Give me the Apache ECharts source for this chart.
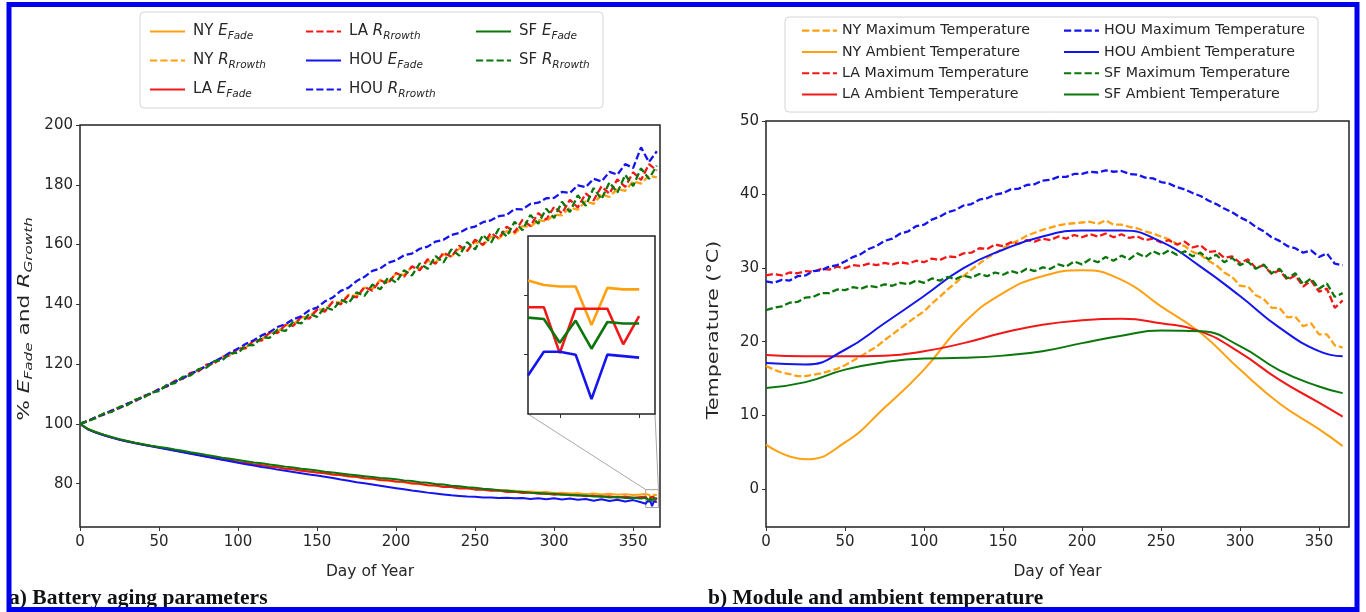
<!DOCTYPE html>
<html>
<head>
<meta charset="utf-8">
<script src="https://cdn.jsdelivr.net/npm/echarts@6/dist/echarts.min.js"></script>
<style>
  html, body { margin: 0; padding: 0; background: #fff; }
  #main { width: 1366px; height: 612px; }
</style>
</head>
<body>
<div id="main"></div>
<script>
// ---- sampling days ----
const STEP5_DAYS = [0,5,10,15,20,25,30,35,40,45,50,55,60,65,70,75,80,85,90,95,100,105,110,115,120,125,130,135,140,145,150,155,160,165,170,175,180,185,190,195,200,205,210,215,220,225,230,235,240,245,250,255,260,265,270,275,280,285,290,295,300,305,310,315,320,325,330,335,340,345,350,355,360,365];
const E_DAYS = [0,5,10,15,20,25,30,35,40,45,50,55,60,65,70,75,80,85,90,95,100,105,110,115,120,125,130,135,140,145,150,155,160,165,170,175,180,185,190,195,200,205,210,215,220,225,230,235,240,245,250,255,260,265,270,275,280,285,290,295,300,305,310,315,320,325,330,335,340,345,350,355,358,359,360,361,362,363,364,365];
const AMB_DAYS = [0,25,50,75,100,125,150,175,200,225,250,275,300,325,350,365];

// ---- (a) capacity fade, % ----
const NY_E = [100,98.2,97.2,96.3,95.5,94.8,94.2,93.6,93.1,92.6, 92.2,91.7,91.2,90.7,90.2,89.7,89.2,88.7,88.2,87.8, 87.3,86.9,86.5,86.2,85.8,85.4,85.1,84.7,84.4,84.0, 83.7,83.5,83.0,82.8,82.4,82.2,81.7,81.6,81.1,81.0, 80.6,80.5,80.0,79.9,79.5,79.4,79.0,78.9,78.6,78.5, 78.2,78.1,77.9,77.9,77.6,77.6,77.3,77.4,77.1,77.2, 76.9,77.0,76.7,76.8,76.5,76.7,76.4,76.6,76.3,76.5, 76.2,76.4, 76.5,76.35,76.3,76.3,75.0,76.25,76.2,76.2];
const LA_E = [100,98.2,97.1,96.3,95.4,94.8,94.1,93.6,93.0,92.6, 92.1,91.7,91.1,90.7,90.1,89.7,89.1,88.7,88.1,87.8, 87.2,86.9,86.4,86.2,85.7,85.5,85.0,84.8,84.3,84.1, 83.7,83.5,83.1,82.9,82.5,82.3,81.8,81.7,81.2,81.1, 80.7,80.6,80.1,80.0,79.5,79.4,78.9,78.9,78.4,78.5, 78.0,78.0,77.6,77.7,77.2,77.3,76.9,77.0,76.6,76.7, 76.3,76.5,76.1,76.2,75.8,76.0,75.6,75.8,75.4,75.7, 75.3,75.5, 75.6,75.6,74.05,75.55,75.55,75.55,74.35,75.3];
const HOU_E = [100,98.2,97.1,96.2,95.4,94.7,94.1,93.5,93.0,92.5, 92.0,91.5,91.0,90.5,90.0,89.5,89.0,88.5,88.0,87.5, 87.0,86.5,86.1,85.6,85.2,84.7,84.3,83.9,83.5,83.1, 82.7,82.3,81.9,81.4,81.0,80.5,80.1,79.7,79.3,78.9, 78.5,78.1,77.7,77.4,77.0,76.7,76.4,76.1,75.9,75.7, 75.6,75.4,75.4,75.2,75.3,75.1,75.2,74.9,75.1,74.8, 75.1,74.7,75.0,74.6,74.9,74.3,74.8,74.2,74.6,74.0, 74.5,73.8, 73.3,74.1,74.1,74.0,72.5,74.0,73.95,73.9];
const SF_E = [100,98.3,97.3,96.4,95.6,94.9,94.3,93.7,93.2,92.7, 92.3,91.9,91.4,91.0,90.5,90.1,89.6,89.2,88.7,88.3, 87.9,87.5,87.1,86.8,86.4,86.1,85.7,85.4,85.0,84.7, 84.4,84.0,83.7,83.4,83.1,82.8,82.5,82.2,81.9,81.7, 81.5,81.1,80.9,80.5,80.3,79.9,79.7,79.3,79.1,78.8, 78.6,78.3,78.1,77.8,77.7,77.4,77.3,77.0,76.9,76.6, 76.6,76.3,76.3,76.0,76.0,75.7,75.8,75.4,75.5,75.2, 75.3,75.0, 75.25,75.2,74.4,75.15,74.2,75.1,75.05,75.05];

// ---- (a) resistance growth, % ----
const NY_R = [100.0,101.1,102.0,103.4,104.2,105.6,106.5,108.0,109.1,110.0, 111.7,112.6,114.3,115.2,116.9,117.8,119.6,120.3,122.3,123.0, 125.0,125.6,127.8,128.3,130.4,130.9,133.0,133.3,135.6,135.9, 138.3,138.2,140.8,140.6,143.2,142.8,145.6,145.1,148.2,147.5, 150.3,149.8,152.6,151.9,154.5,154.0,156.8,156.0,158.7,158.0, 160.9,159.8,162.6,162.0,164.5,163.6,166.2,165.9,168.2,167.8, 170.0,169.8,172.3,171.7,174.5,173.6,176.8,175.9,178.6,178.0, 181.2,180.4,183.0,182.5];
const LA_R = [100.0,100.9,102.3,103.1,104.5,105.3,106.8,107.6,109.3,110.1, 111.7,112.5,114.4,115.1,117.1,117.6,119.8,120.2,122.5,122.9, 125.2,125.3,128.0,127.9,130.6,130.4,133.1,132.8,135.8,135.2, 138.2,137.6,140.9,140.0,143.0,142.3,145.8,144.6,148.0,147.0, 150.5,149.2,152.7,151.4,155.1,153.6,157.3,155.9,159.6,157.8, 161.6,159.9,163.9,162.0,166.0,164.1,168.3,166.2,170.5,168.3, 172.6,170.4,175.0,172.4,177.1,174.8,179.5,177.0,181.8,179.3, 184.2,181.6,186.9,184.8];
const HOU_R = [100.0,101.0,102.2,103.2,104.4,105.4,106.7,107.8,109.1,110.2, 111.5,112.7,114.1,115.3,116.7,118.0,119.4,120.9,122.2,123.9, 125.2,126.8,128.0,129.6,130.7,132.4,133.4,135.0,136.0,138.0, 138.9,141.0,142.3,144.5,145.6,147.8,149.2,151.2,152.0,153.9, 154.7,156.4,157.0,158.6,159.3,161.0,161.6,163.2,163.9,165.4, 166.0,167.5,168.1,169.5,169.9,171.9,171.8,173.6,174.0,175.5, 175.6,177.6,177.3,179.8,179.2,182.0,181.1,184.3,183.4,186.9, 185.6,192.5,187.6,191.2];
const SF_R = [100.0,101.0,101.9,103.5,104.0,105.7,106.3,108.1,108.7,110.5, 111.0,113.1,113.6,115.7,116.2,118.3,118.8,121.0,121.3,123.6, 123.8,126.2,126.4,128.9,128.8,131.6,131.1,134.2,133.6,136.8, 135.8,139.1,138.1,141.5,140.4,144.0,142.8,146.6,145.0,149.0, 147.3,151.4,149.6,153.7,151.9,156.1,154.0,158.4,156.3,160.8, 158.4,163.2,160.5,165.3,162.7,167.6,164.8,169.9,167.0,172.0, 168.9,174.3,170.9,176.5,173.0,178.9,175.2,180.8,177.4,183.3, 179.6,185.5,182.0,186.4];

// ---- (b) module maximum temperature, °C ----
const NY_MAX = [16.7,16.2,15.8,15.6,15.3,15.3,15.5,15.7,16.0,16.3, 16.8,17.4,18.0,18.7,19.3,20.2,21.0,21.8,22.6,23.4, 24.1,25.2,26.1,27.1,28.0,28.9,29.8,30.6,31.4,32.0, 32.7,33.3,33.8,34.4,34.8,35.2,35.5,35.8,36.0,36.1, 36.2,36.3,36.0,36.5,35.9,35.9,35.6,35.4,35.0,34.7, 34.3,33.9,33.3,33.0,32.2,31.8,31.0,30.4,29.4,28.8, 27.6,27.5,26.3,25.8,24.6,24.6,23.3,23.4,22.1,22.5, 21.0,21.0,19.5,19.2];
const LA_MAX = [29.0,29.2,29.0,29.4,29.3,29.6,29.5,29.9,29.8,30.2, 30.0,30.4,30.3,30.6,30.4,30.7,30.5,30.8,30.6,31.0, 30.8,31.3,31.1,31.6,31.5,32.0,32.1,32.7,32.6,33.2, 33.0,33.5,33.3,33.8,33.6,34.0,33.8,34.3,34.0,34.5, 34.2,34.6,34.3,34.7,34.2,34.6,34.1,34.3,33.8,34.0, 33.5,33.8,33.2,33.6,32.8,33.1,32.2,32.3,31.4,31.6, 30.7,31.2,30.0,30.4,29.2,29.7,28.4,29.0,27.5,28.3, 26.8,27.2,24.6,25.6];
const HOU_MAX = [28.2,28.0,28.4,28.3,28.9,29.0,29.6,29.7,30.2,30.4, 30.9,31.5,31.9,32.6,33.0,33.7,34.0,34.7,35.0,35.7, 35.9,36.6,37.0,37.6,37.9,38.5,38.7,39.3,39.5,40.0, 40.2,40.7,40.8,41.3,41.4,41.9,42.0,42.4,42.4,42.8, 42.8,43.1,43.0,43.3,43.1,43.2,42.8,42.7,42.3,42.2, 41.7,41.5,41.0,40.7,40.2,39.8,39.2,38.7,38.1,37.6, 36.9,36.4,35.6,35.0,34.2,33.7,33.0,32.7,32.1,32.4, 31.5,32.0,30.6,30.4];
const SF_MAX = [24.3,24.6,24.8,25.3,25.4,26.0,26.1,26.6,26.6,27.1, 27.0,27.4,27.2,27.6,27.4,27.8,27.6,28.0,27.8,28.3, 28.0,28.6,28.3,28.8,28.5,29.0,28.7,29.2,28.9,29.4, 29.1,29.6,29.3,29.9,29.6,30.1,29.9,30.5,30.2,30.9, 30.5,31.2,30.8,31.5,31.0,31.7,31.2,32.0,31.5,32.3, 31.8,32.4,31.8,32.3,31.6,32.1,31.2,31.8,30.8,31.4, 30.4,30.9,29.9,30.5,29.3,29.9,28.6,29.3,27.8,28.6, 27.2,27.9,26.1,26.6];

// ---- (b) ambient temperature, °C ----
const NY_AMB  = [6.0,4.0,6.3,11.0,16.2,22.5,26.6,28.9,29.7,28.4,24.8,21.2,16.2,11.6,8.1,5.8];
const LA_AMB  = [18.2,18.0,18.0,18.1,18.7,19.8,21.2,22.3,22.9,23.1,22.5,21.4,18.5,14.8,11.7,9.8];
const HOU_AMB = [17.1,16.9,18.9,22.5,26.2,30.0,32.5,34.3,35.1,35.1,33.6,30.2,26.2,21.9,18.7,18.0];
const SF_AMB  = [13.7,14.5,16.2,17.2,17.7,17.8,18.1,18.7,19.8,20.8,21.5,21.4,19.4,16.1,13.9,13.0];

// ---- axis ticks and the zoomed window ----
const DAY_TICKS = [0,50,100,150,200,250,300,350];
const AGING_TICKS = [80,100,120,140,160,180,200];
const TEMP_TICKS = [0,10,20,30,40,50];
const ZOOM_DAYS = [358, 366];
const ZOOM_VALUES = [72, 78];
const ZOOM_DAY_TICKS = [360, 365];
const ZOOM_VALUE_TICKS = [74, 76];

const COLOR = { NY: '#ffa010', LA: '#f21818', HOU: '#1414ee', SF: '#0b760b' };
const FONT = 'DejaVu Sans';
const INK = '#262626';

// legend glyphs: a plain stroke and a dashed stroke
const SOLID_ICON = 'path://M0,0H35V2H0Z';
const DASH_ICON = 'path://M0,0H7V2H0Z M10,0H17V2H10Z M20,0H27V2H20Z M30,0H34V2H30Z';

const pairs = (days, vals) => days.map((d, i) => [d, vals[i]]);
const tail = (days, vals, from) => pairs(days, vals).filter(p => p[0] >= from);

function line(name, data, color, dashed, grid, extra) {
  return Object.assign({
    type: 'line', name, data,
    xAxisIndex: grid, yAxisIndex: grid,
    showSymbol: false, symbol: 'none',
    lineStyle: { color, width: dashed ? 2.3 : 2, type: dashed ? [7, 3] : 'solid' },
    itemStyle: { color },
    emphasis: { disabled: true },
    z: 2
  }, extra || {});
}

const agingSeries = [
  line('NY E_Fade', pairs(E_DAYS, NY_E), COLOR.NY, false, 0),
  line('NY R_Rrowth', pairs(STEP5_DAYS, NY_R), COLOR.NY, true, 0),
  line('LA E_Fade', pairs(E_DAYS, LA_E), COLOR.LA, false, 0),
  line('LA R_Rrowth', pairs(STEP5_DAYS, LA_R), COLOR.LA, true, 0),
  line('HOU E_Fade', pairs(E_DAYS, HOU_E), COLOR.HOU, false, 0),
  line('HOU R_Rrowth', pairs(STEP5_DAYS, HOU_R), COLOR.HOU, true, 0),
  line('SF E_Fade', pairs(E_DAYS, SF_E), COLOR.SF, false, 0, {
    markArea: {
      silent: true,
      itemStyle: { color: 'rgba(0,0,0,0)', borderColor: '#a0a0a0', borderWidth: 1 },
      data: [[{ coord: [ZOOM_DAYS[0], ZOOM_VALUES[0]] }, { coord: [ZOOM_DAYS[1], ZOOM_VALUES[1]] }]]
    }
  }),
  line('SF R_Rrowth', pairs(STEP5_DAYS, SF_R), COLOR.SF, true, 0)
];

// zoomed window: last days of capacity fade
const detail = (name, vals, color) =>
  line(name, tail(E_DAYS, vals, ZOOM_DAYS[0]), color, false, 2, { z: 12, lineStyle: { color, width: 2.6 } });
const detailSeries = [
  detail('NY detail', NY_E, COLOR.NY),
  detail('LA detail', LA_E, COLOR.LA),
  detail('HOU detail', HOU_E, COLOR.HOU),
  detail('SF detail', SF_E, COLOR.SF)
];

const tempSeries = [
  line('NY Maximum Temperature', pairs(STEP5_DAYS, NY_MAX), COLOR.NY, true, 1),
  line('NY Ambient Temperature', pairs(AMB_DAYS, NY_AMB), COLOR.NY, false, 1, { smooth: 0.5 }),
  line('LA Maximum Temperature', pairs(STEP5_DAYS, LA_MAX), COLOR.LA, true, 1),
  line('LA Ambient Temperature', pairs(AMB_DAYS, LA_AMB), COLOR.LA, false, 1, { smooth: 0.5 }),
  line('HOU Maximum Temperature', pairs(STEP5_DAYS, HOU_MAX), COLOR.HOU, true, 1),
  line('HOU Ambient Temperature', pairs(AMB_DAYS, HOU_AMB), COLOR.HOU, false, 1, { smooth: 0.5 }),
  line('SF Maximum Temperature', pairs(STEP5_DAYS, SF_MAX), COLOR.SF, true, 1),
  line('SF Ambient Temperature', pairs(AMB_DAYS, SF_AMB), COLOR.SF, false, 1, { smooth: 0.5 })
];

const rich = {
  t: { fontFamily: FONT, fontSize: 15, fill: INK, color: INK, lineHeight: 20, verticalAlign: 'middle' },
  i: { fontFamily: FONT, fontSize: 15, fill: INK, color: INK, fontStyle: 'italic', lineHeight: 20, verticalAlign: 'middle' },
  s: { fontFamily: FONT, fontSize: 10.5, fill: INK, color: INK, fontStyle: 'italic', lineHeight: 20, verticalAlign: 'bottom' }
};
const subscriptLabel = name => {
  const [city, sym] = name.split(' ');
  const [main, sub] = sym.split('_');
  return `{t|${city} }{i|${main}}{s|${sub}}`;
};
const legendEntry = name => ({
  name,
  icon: /R_|Maximum/.test(name) ? DASH_ICON : SOLID_ICON
});

function agingLegend(left, names) {
  return {
    left, top: 19, orient: 'vertical', itemWidth: 35, itemHeight: 3, itemGap: 11.5,
    data: names.map(legendEntry), selectedMode: false, formatter: subscriptLabel,
    textStyle: { rich, padding: [0, 0, 0, 3] }
  };
}
function tempLegend(left, names) {
  return {
    left, top: 17, orient: 'vertical', itemWidth: 35, itemHeight: 3, itemGap: 4,
    data: names.map(legendEntry), selectedMode: false,
    textStyle: { fontFamily: FONT, fontSize: 14.2, color: INK, lineHeight: 17.3, padding: [0, 0, 0, 0] }
  };
}

const tickStyle = { show: true, inside: false, length: 4, lineStyle: { color: '#333', width: 1 } };
const labelStyle = { fontFamily: FONT, fontSize: 15, color: INK };

function dayAxis(grid, max) {
  return {
    gridIndex: grid, type: 'value', min: 0, max,
    axisLine: { show: false, onZero: false },
    axisTick: Object.assign({ customValues: DAY_TICKS }, tickStyle),
    axisLabel: Object.assign({ customValues: DAY_TICKS, margin: 8 }, labelStyle),
    splitLine: { show: false },
    name: 'Day of Year', nameLocation: 'middle', nameGap: 37,
    nameTextStyle: { fontFamily: FONT, fontSize: 15.5, color: INK }
  };
}

const option = {
  animation: false,
  backgroundColor: '#fff',
  textStyle: { fontFamily: FONT },
  grid: [
    { left: 80, top: 125, width: 580, height: 402, show: true, borderColor: '#222', borderWidth: 1.5, backgroundColor: 'rgba(0,0,0,0)' },
    { left: 766, top: 121, width: 583, height: 406, show: true, borderColor: '#222', borderWidth: 1.5, backgroundColor: 'rgba(0,0,0,0)' },
    { left: 528, top: 236, width: 127, height: 178, show: true, borderColor: '#222', borderWidth: 1.5, backgroundColor: '#fff', z: 10 }
  ],
  xAxis: [
    dayAxis(0, 367),
    dayAxis(1, 369),
    {
      gridIndex: 2, type: 'value', min: ZOOM_DAYS[0], max: ZOOM_DAYS[1], z: 11,
      axisLine: { show: false, onZero: false },
      axisTick: Object.assign({ customValues: ZOOM_DAY_TICKS }, tickStyle),
      axisLabel: { show: false }, splitLine: { show: false }
    }
  ],
  yAxis: [
    {
      gridIndex: 0, type: 'value', min: 65.5, max: 200,
      axisLine: { show: false, onZero: false },
      axisTick: Object.assign({ customValues: AGING_TICKS }, tickStyle),
      axisLabel: Object.assign({ customValues: AGING_TICKS, margin: 7 }, labelStyle),
      splitLine: { show: false }
    },
    {
      gridIndex: 1, type: 'value', min: -5.2, max: 50,
      axisLine: { show: false, onZero: false },
      axisTick: Object.assign({ customValues: TEMP_TICKS }, tickStyle),
      axisLabel: Object.assign({ customValues: TEMP_TICKS, margin: 7 }, labelStyle),
      splitLine: { show: false }
    },
    {
      gridIndex: 2, type: 'value', min: ZOOM_VALUES[0], max: ZOOM_VALUES[1], z: 11,
      axisLine: { show: false, onZero: false },
      axisTick: Object.assign({ customValues: ZOOM_VALUE_TICKS }, tickStyle),
      axisLabel: { show: false }, splitLine: { show: false }
    }
  ],
  legend: [
    agingLegend(145, ['NY E_Fade', 'NY R_Rrowth', 'LA E_Fade']),
    agingLegend(301, ['LA R_Rrowth', 'HOU E_Fade', 'HOU R_Rrowth']),
    agingLegend(471, ['SF E_Fade', 'SF R_Rrowth']),
    tempLegend(797, ['NY Maximum Temperature', 'NY Ambient Temperature', 'LA Maximum Temperature', 'LA Ambient Temperature']),
    tempLegend(1059, ['HOU Maximum Temperature', 'HOU Ambient Temperature', 'SF Maximum Temperature', 'SF Ambient Temperature'])
  ],
  graphic: [
    { type: 'rect', id: 'legendBoxA', z: 0, shape: { x: 140, y: 12, width: 463, height: 96, r: 4 }, style: { fill: '#fff', stroke: '#d6d6d6', lineWidth: 1 } },
    { type: 'rect', id: 'legendBoxB', z: 0, shape: { x: 785, y: 17, width: 533, height: 95, r: 4 }, style: { fill: '#fff', stroke: '#d6d6d6', lineWidth: 1 } },
    // vertical axis titles, drawn stretched along their reading direction
    {
      type: 'text', id: 'titleAgingY', x: 25, y: 319, rotation: Math.PI / 2, scaleX: 1.45, silent: true,
      style: { text: '{t|% }{i|E}{s|Fade}{t| and }{i|R}{s|Growth}', rich, align: 'center', verticalAlign: 'middle' }
    },
    {
      type: 'text', id: 'titleTempY', x: 714, y: 330, rotation: Math.PI / 2, scaleX: 1.38, silent: true,
      style: { text: 'Temperature (°C)', font: '15px "DejaVu Sans"', fill: INK, align: 'center', verticalAlign: 'middle' }
    },
    { type: 'text', id: 'captionA', left: 9, top: 587, style: { text: 'a) Battery aging parameters', font: 'bold 21.5px "Liberation Serif"', fill: '#111' } },
    { type: 'text', id: 'captionB', left: 708, top: 587, style: { text: 'b) Module and ambient temperature', font: 'bold 21.5px "Liberation Serif"', fill: '#111' } },
    { type: 'rect', id: 'frame', z: 50, silent: true, shape: { x: 9, y: 4.5, width: 1348, height: 605 }, style: { fill: 'none', stroke: '#0000ee', lineWidth: 5 } }
  ],
  series: [].concat(agingSeries, tempSeries, detailSeries)
};

const chart = echarts.init(document.getElementById('main'), null, { renderer: 'canvas' });
chart.setOption(option);

// connector lines from the zoomed window to the marked region
const winBL = chart.convertToPixel({ gridIndex: 2 }, [ZOOM_DAYS[0], ZOOM_VALUES[0]]);
const winBR = chart.convertToPixel({ gridIndex: 2 }, [ZOOM_DAYS[1], ZOOM_VALUES[0]]);
const boxTL = chart.convertToPixel({ gridIndex: 0 }, [ZOOM_DAYS[0], ZOOM_VALUES[1]]);
const boxTR = chart.convertToPixel({ gridIndex: 0 }, [ZOOM_DAYS[1], ZOOM_VALUES[1]]);
chart.setOption({
  graphic: [
    { type: 'line', id: 'linkL', z: 5, silent: true, shape: { x1: winBL[0], y1: winBL[1], x2: boxTL[0], y2: boxTL[1] }, style: { stroke: '#a8a8a8', lineWidth: 1 } },
    { type: 'line', id: 'linkR', z: 5, silent: true, shape: { x1: winBR[0], y1: winBR[1], x2: boxTR[0], y2: boxTR[1] }, style: { stroke: '#a8a8a8', lineWidth: 1 } }
  ]
});
</script>
</body>
</html>
